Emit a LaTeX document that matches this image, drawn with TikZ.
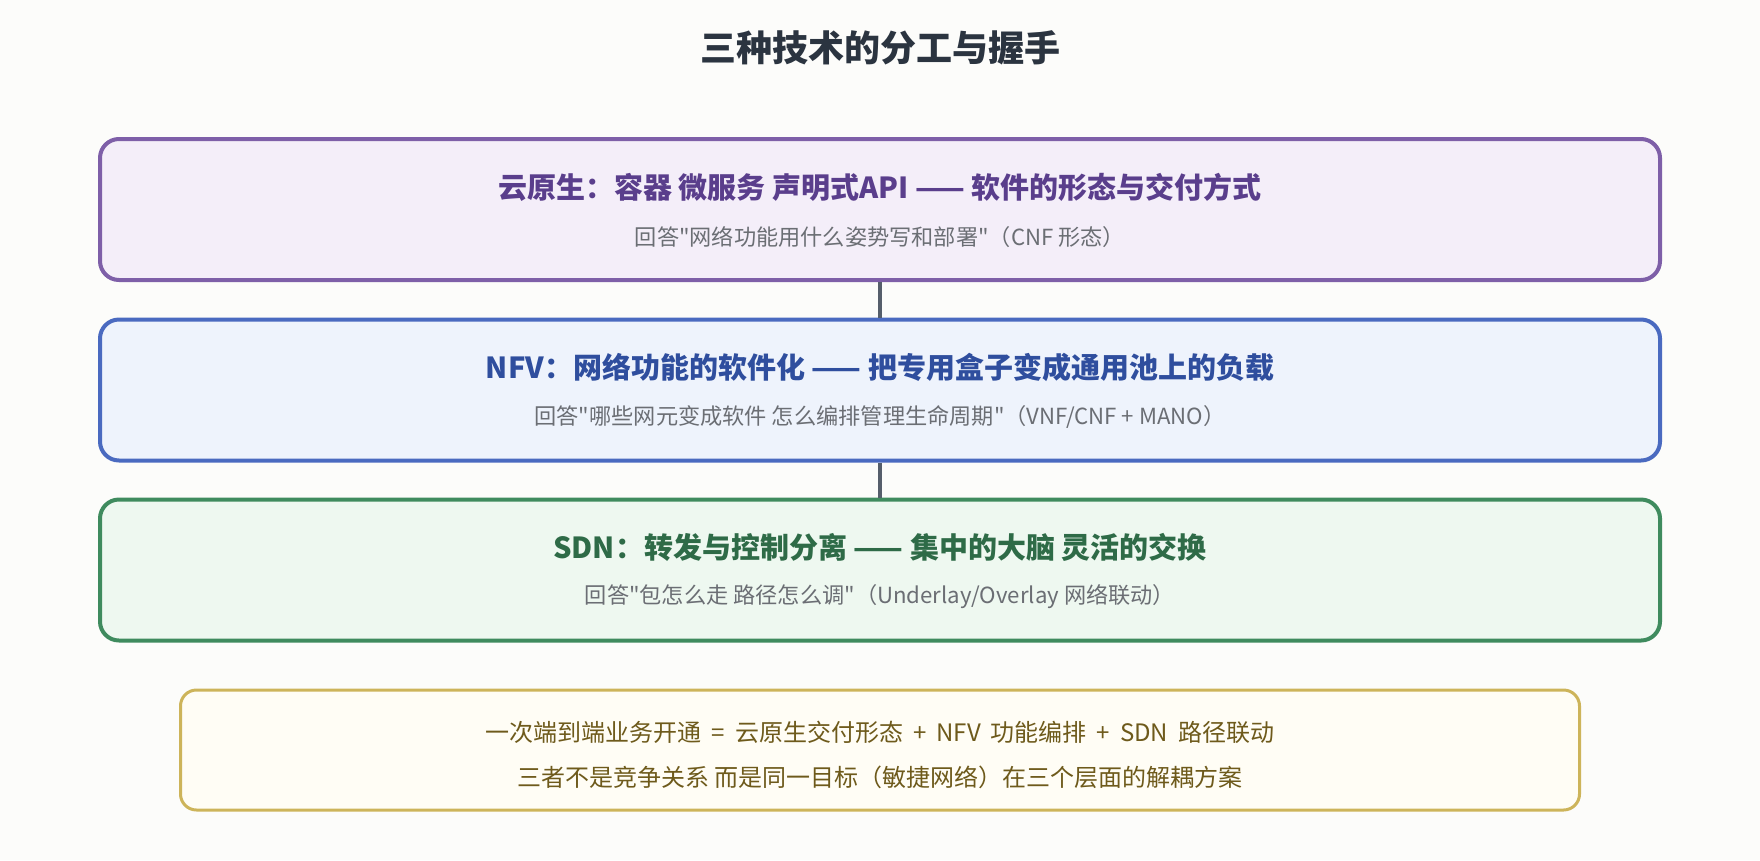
\documentclass[tikz,border=0pt]{standalone}
\usepackage{fontspec}
\setmainfont{Noto Sans CJK SC}
\newfontfamily\plainq{Noto Sans CJK SC}
\newcommand{\sq}{{\plainq"}}
\newcommand{\ws}{\hspace{10pt}}
\definecolor{bgc}{HTML}{FCFCFA}
\definecolor{titlec}{HTML}{2B3440}
\definecolor{subc}{HTML}{6B6E74}
\definecolor{linkc}{HTML}{555E6B}
\definecolor{pbord}{HTML}{7E5FA8}
\definecolor{pfill}{HTML}{F4EEF9}
\definecolor{ptext}{HTML}{5A3E8C}
\definecolor{bbord}{HTML}{4A6AC0}
\definecolor{bfill}{HTML}{EEF3FC}
\definecolor{btext}{HTML}{2F4E9E}
\definecolor{gbord}{HTML}{3F8B5E}
\definecolor{gfill}{HTML}{EEF8F0}
\definecolor{gtext}{HTML}{2E6B47}
\definecolor{ybord}{HTML}{CDB45A}
\definecolor{yfill}{HTML}{FFFDF5}
\definecolor{ytext}{HTML}{6E5A1B}
\tikzset{
  layerbox/.style={draw, rounded corners=19pt, line width=4pt, minimum width=1560pt, minimum height=141pt, inner sep=0pt},
  headtext/.style={font=\fontsize{29}{35}\selectfont\bfseries, inner sep=0pt},
  subtext/.style={font=\fontsize{22.2}{27}\selectfont, text=subc, inner sep=0pt},
  notetext/.style={font=\fontsize{24}{29}\selectfont, text=ytext, inner sep=0pt},
  linkline/.style={draw=linkc, line width=4pt}
}
\begin{document}
\begin{tikzpicture}[x=1pt,y=-1pt]
\useasboundingbox (0,0) rectangle (1760,860);
\fill[bgc] (0,0) rectangle (1760,860);
\node[font=\fontsize{36}{43}\selectfont\bfseries, text=titlec, inner sep=0pt] (title) at (880,48) {三种技术的分工与握手};

\node[layerbox, draw=pbord, fill=pfill] (cloud) at (880,209.5) {};
\node[layerbox, draw=bbord, fill=bfill] (nfv) at (880,390) {};
\node[layerbox, draw=gbord, fill=gfill] (sdn) at (880,570) {};
\node[draw=ybord, fill=yfill, rounded corners=16pt, line width=3pt, minimum width=1399pt, minimum height=120pt, inner sep=0pt] (note) at (880,750) {};

\draw[linkline] (cloud.south) -- (nfv.north);
\draw[linkline] (nfv.south) -- (sdn.north);

\node[headtext, text=ptext] (cloudh) at (880,187) {云原生：容器 微服务 声明式API —— 软件的形态与交付方式};
\node[subtext] (clouds) at (880,237) {回答\sq 网络功能用什么姿势写和部署\sq（CNF 形态）};
\node[headtext, text=btext] (nfvh) at (880,367) {NFV：网络功能的软件化 —— 把专用盒子变成通用池上的负载};
\node[subtext] (nfvs) at (880,417) {回答\sq 哪些网元变成软件 怎么编排管理生命周期\sq（VNF/CNF + MANO）};
\node[headtext, text=gtext] (sdnh) at (880,547) {SDN：转发与控制分离 —— 集中的大脑 灵活的交换};
\node[subtext] (sdns) at (880,597) {回答\sq 包怎么走 路径怎么调\sq（Underlay/Overlay 网络联动）};

\node[notetext] (note1) at (880,732) {一次端到端业务开通\ws=\ws 云原生交付形态\ws+\ws NFV\ws 功能编排\ws+\ws SDN\ws 路径联动};
\node[notetext] (note2) at (880,777) {三者不是竞争关系 而是同一目标（敏捷网络）在三个层面的解耦方案};
\end{tikzpicture}
\end{document}
